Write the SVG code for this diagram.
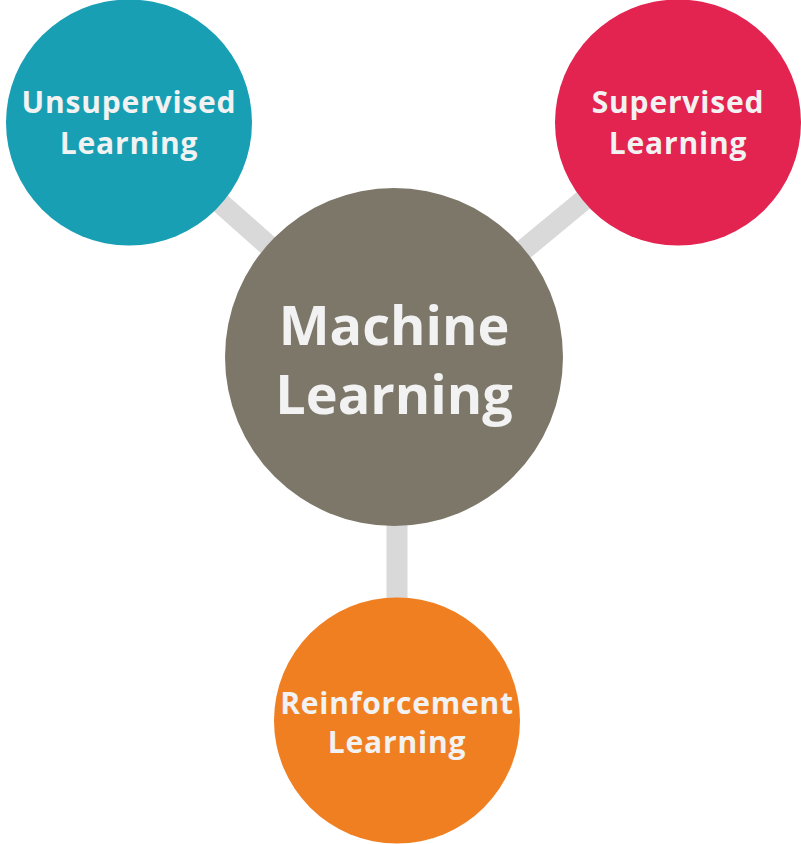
<svg xmlns="http://www.w3.org/2000/svg" width="801" height="844" viewBox="0 0 801 844">
<style>
.conn{stroke:#d9d9d9;stroke-width:21;fill:none}
.lbl{font-family:"Open Sans","Noto Sans","Liberation Sans",sans-serif;font-weight:bold;fill:#f2f2f2;text-anchor:middle}
.s{font-size:30px;letter-spacing:0.8px}
.b{font-size:54px}
</style>
<rect width="801" height="844" fill="#ffffff"/>
<g id="connectors">
<line class="conn" x1="129" y1="122" x2="394" y2="357"/>
<line class="conn" x1="678" y1="122" x2="394" y2="357"/>
<line class="conn" x1="397" y1="357" x2="397" y2="720"/>
</g>
<g id="unsupervised">
<circle cx="129" cy="122.5" r="123" fill="#189fb3"/>
<text class="lbl s" x="129" y="113">Unsupervised</text>
<text class="lbl s" x="129" y="154">Learning</text>
</g>
<g id="supervised">
<circle cx="678" cy="122.5" r="123" fill="#e32350"/>
<text class="lbl s" x="678" y="113">Supervised</text>
<text class="lbl s" x="678" y="154">Learning</text>
</g>
<g id="machine-learning">
<circle cx="394" cy="357" r="169" fill="#7d776a"/>
<text class="lbl b" x="394" y="345">Machine</text>
<text class="lbl b" x="394" y="414">Learning</text>
</g>
<g id="reinforcement">
<circle cx="397" cy="720.5" r="123" fill="#f07f22"/>
<text class="lbl s" x="397" y="714">Reinforcement</text>
<text class="lbl s" x="397" y="753">Learning</text>
</g>
</svg>
